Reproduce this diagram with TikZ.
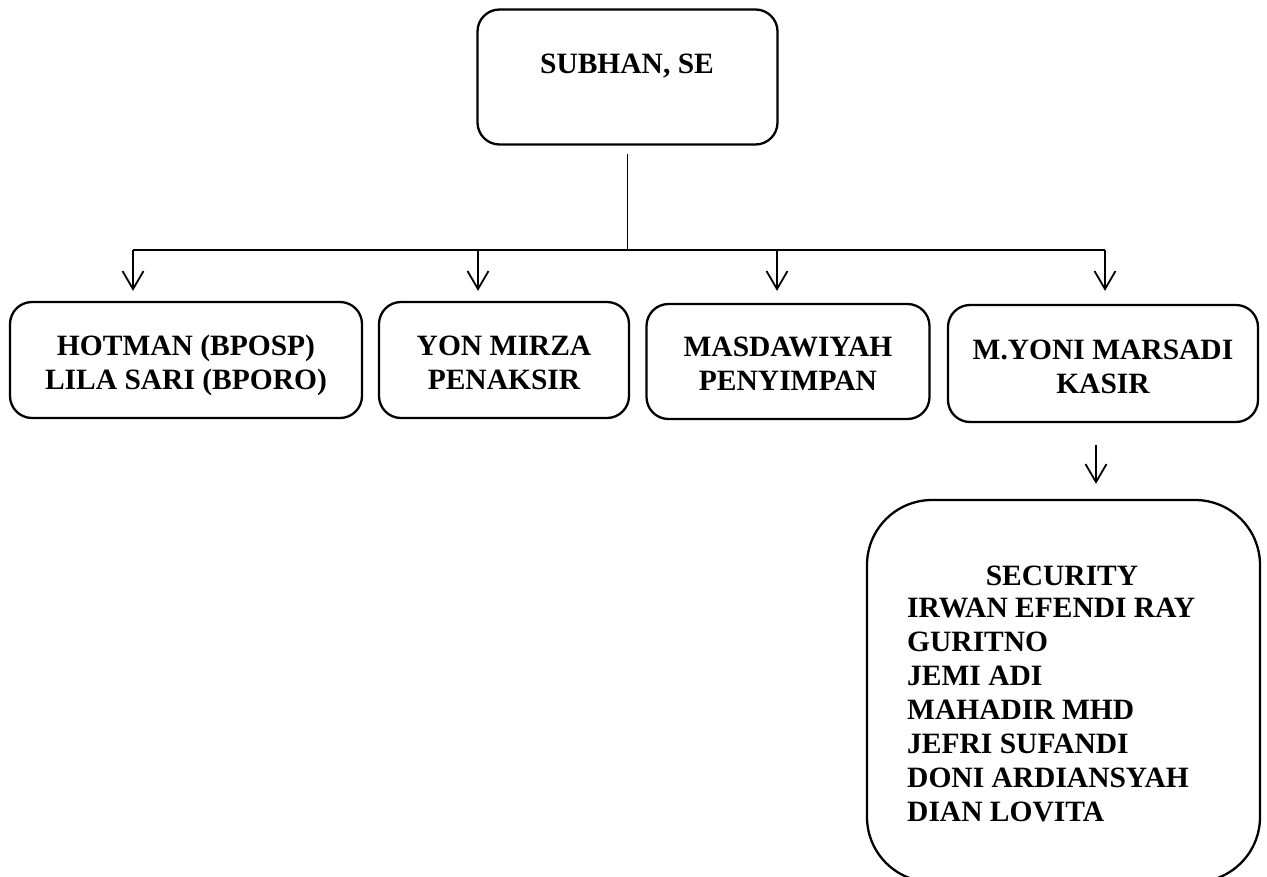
\documentclass[tikz,border=0pt]{standalone}
\usepackage{fontspec}
\setmainfont{Liberation Serif}
\usetikzlibrary{arrows.meta}
\begin{document}
\begin{tikzpicture}[x=1pt,y=-1pt,
  box/.style={draw, line width=2.3pt, rounded corners=22pt, inner sep=0pt},
  lbl/.style={font=\fontsize{29.5}{34}\selectfont\bfseries, align=center, inner sep=0pt},
  conn/.style={line width=1.8pt},
  arr/.style={conn, -{Straight Barb[length=18pt,width=21pt,line width=1.8pt]}}]
\useasboundingbox (0,0) rectangle (1267,876);
% top box
\node[box, minimum width=300pt, minimum height=135pt] (top) at (627.5,77) {};
\node[lbl] (topt) at (627,66) {SUBHAN, SE};
% second row boxes
\node[box, minimum width=352pt, minimum height=116pt] (b1) at (186,360) {};
\node[lbl] (t1) at (186,365.5) {HOTMAN (BPOSP)\\LILA SARI (BPORO)};
\node[box, minimum width=250pt, minimum height=116pt] (b2) at (504,360) {};
\node[lbl] (t2) at (504,363) {YON MIRZA\\PENAKSIR};
\node[box, minimum width=283pt, minimum height=115pt] (b3) at (788,361.5) {};
\node[lbl] (t3) at (788,364) {MASDAWIYAH\\PENYIMPAN};
\node[box, minimum width=310pt, minimum height=117pt] (b4) at (1103,363.5) {};
\node[lbl] (t4) at (1103,367) {M.YONI MARSADI\\KASIR};
% security box
\node[box, rounded corners=65pt, minimum width=393pt, minimum height=382pt] (b5) at (1063.5,691) {};
\node[lbl] (sect) at (1062,576) {SECURITY};
\node[lbl, align=left, anchor=west] (secl) at (907,710) {IRWAN EFENDI RAY\\GURITNO\\JEMI ADI\\MAHADIR MHD\\JEFRI SUFANDI\\DONI ARDIANSYAH\\DIAN LOVITA};
% connectors
\coordinate (j) at (627.5,250);
\coordinate (a1) at (133,250);
\coordinate (a2) at (478,250);
\coordinate (a3) at (777,250);
\coordinate (a4) at (1105,250);
\coordinate (k) at (1096,445);
\draw[conn] ([yshift=-8pt]top.south) -- (j);
\draw[conn] (a1) -- (a4);
\draw[arr, shorten >=10pt] (a1) -- (a1 |- b1.north);
\draw[arr, shorten >=10pt] (a2) -- (a2 |- b2.north);
\draw[arr, shorten >=12pt] (a3) -- (a3 |- b3.north);
\draw[arr, shorten >=13pt] (a4) -- (a4 |- b4.north);
\draw[arr, shorten >=15pt] (k) -- (k |- b5.north);
\end{tikzpicture}
\end{document}
